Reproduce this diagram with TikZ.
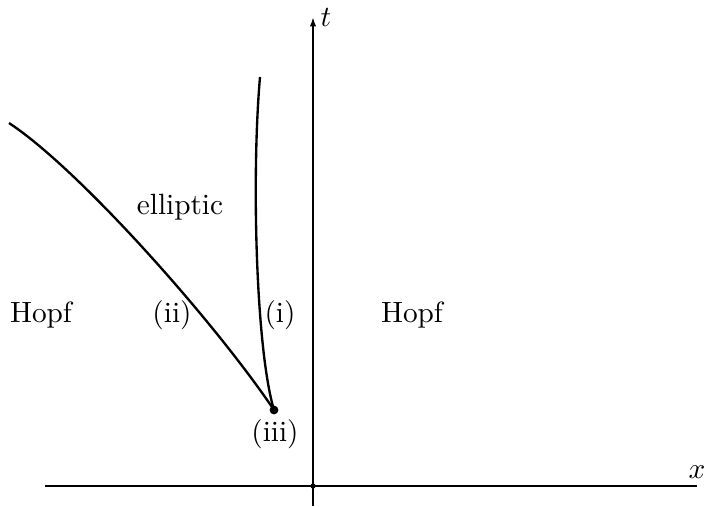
\documentclass[tikz,border=0pt]{standalone}
\usepackage{amsmath, amssymb}
\usetikzlibrary{arrows.meta, positioning, calc}

\begin{document}
\begin{tikzpicture}[x=0.012cm, y=-0.012cm,
    axis/.style={line width=0.7pt},
    branch/.style={line width=0.8pt},
    lbl/.style={inner sep=0pt, anchor=base}]
  % picture frame, in pixel units of the sketch
  \useasboundingbox (0,0) rectangle (707,506);

  % Axes
  \coordinate (xl) at (45,486);
  \coordinate (xr) at (697,486);
  \coordinate (tb) at (313,506);
  \coordinate (tt) at (313,17);
  \coordinate (o) at (313,486);
  \draw[axis] (xl) -- (xr);
  \draw[axis, -{Latex[length=3.2pt, width=2.2pt]}] (tb) -- (tt);
  \fill (o) circle (0.9pt);
  \node (tlab) at (326,17) {$t$};
  \node (xlab) at (697,472) {$x$};

  % Meeting point (iii) and the two branches
  \node[circle, fill, inner sep=0pt, minimum size=3pt] (p) at (274,410) {};
  \coordinate (itop) at (260,77);
  \coordinate (iileft) at (9,123);
  % Branch (i)
  \draw[branch] (itop) .. controls (251.3,177) and (256,350) .. (p.center);
  % Branch (ii)
  \draw[branch] (iileft) .. controls (79,169) and (214,321) .. (p.center);

  % Labels
  \node (ell) at (180,207) {elliptic};
  \node[lbl] (hopfl) at (41,322) {Hopf};
  \node[lbl] (hopfr) at (412,322) {Hopf};
  \node[lbl] (lii) at (172,322) {(ii)};
  \node[lbl] (li) at (280,322) {(i)};
  \node (liii) at (275,434) {(iii)};
\end{tikzpicture}
\end{document}
